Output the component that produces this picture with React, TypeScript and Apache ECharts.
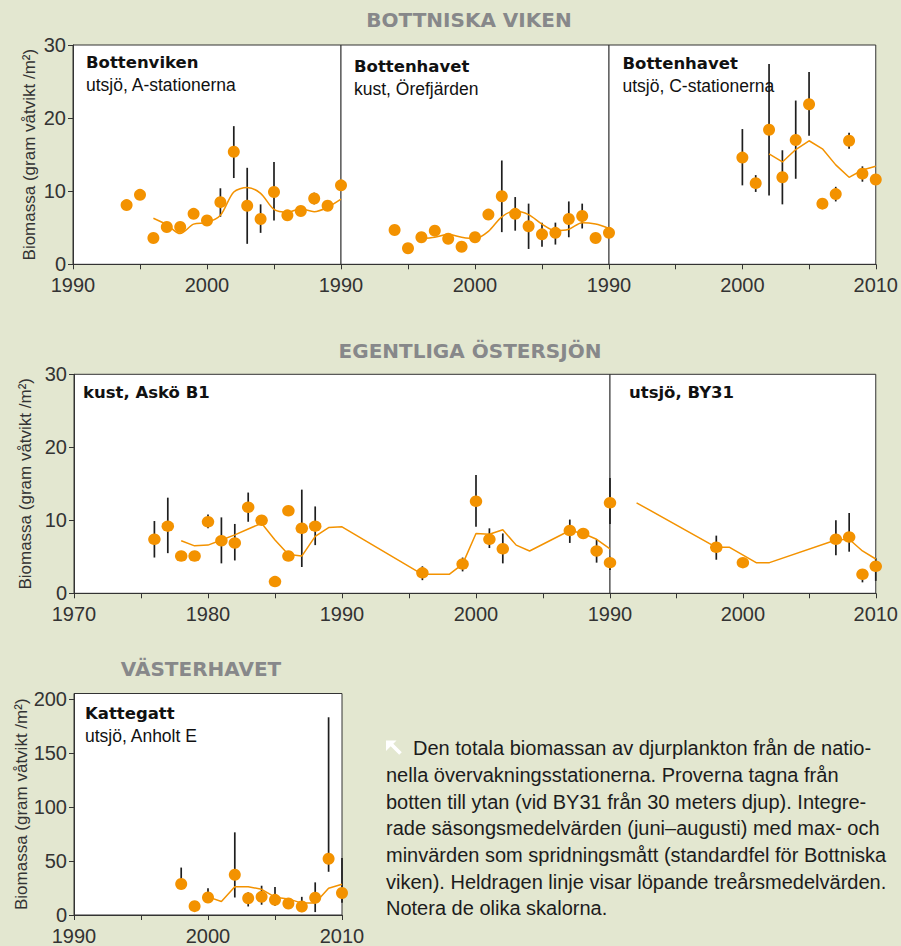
import React, { useEffect, useRef } from 'react';
import * as echarts from 'echarts';

// ---------- DATA ----------
// Bottenviken, utsjö, A-stationerna
const bottenvikenPoints: number[][] = [
  [1994, 8.1], [1995, 9.5], [1996, 3.6], [1997, 5.1], [1998, 5.1], [1999, 6.9], [2000, 6.0],
  [2001, 8.5], [2002, 15.4], [2003, 8.0], [2004, 6.2], [2005, 9.9], [2006, 6.7], [2007, 7.3],
  [2008, 9.0], [2009, 8.0], [2010, 10.8],
];
const bottenvikenErrors: number[][] = [
  [2001, 6.5, 10.4], [2002, 11.8, 18.9], [2003, 2.8, 13.2], [2004, 4.3, 8.2], [2005, 6.0, 14.0], [2008, 8.2, 9.8],
];
const bottenvikenAvg: number[][] = [
  [1996, 6.3], [1997, 5.4], [1998, 4.2], [1999, 5.5], [2000, 5.7], [2001, 6.7], [2002, 9.9], [2003, 10.5],
  [2004, 9.7], [2005, 7.5], [2006, 7.1], [2007, 7.6], [2008, 7.2], [2009, 7.8], [2010, 8.9],
];

// Bottenhavet, kust, Örefjärden
const orefjardenPoints: number[][] = [
  [1994, 4.7], [1995, 2.2], [1996, 3.7], [1997, 4.6], [1998, 3.5], [1999, 2.4], [2000, 3.7],
  [2001, 6.8], [2002, 9.3], [2003, 6.9], [2004, 5.2], [2005, 4.1], [2006, 4.3], [2007, 6.2],
  [2008, 6.6], [2009, 3.6], [2010, 4.3],
];
const orefjardenErrors: number[][] = [
  [2002, 4.4, 14.2], [2003, 4.6, 9.2], [2004, 2.1, 8.3], [2005, 2.4, 5.7], [2006, 2.7, 5.7],
  [2007, 3.7, 8.6], [2008, 4.9, 8.3],
];
const orefjardenAvg: number[][] = [
  [1996, 3.5], [1997, 3.7], [1998, 4.1], [1999, 3.7], [2000, 3.5], [2001, 4.5], [2002, 6.5], [2003, 7.3],
  [2004, 6.8], [2005, 5.5], [2006, 4.6], [2007, 4.8], [2008, 5.7], [2009, 5.5], [2010, 4.9],
];

// Bottenhavet, utsjö, C-stationerna
const cStationPoints: number[][] = [
  [2000, 14.6], [2001, 11.1], [2002, 18.4], [2003, 11.9], [2004, 17.0], [2005, 21.9],
  [2006, 8.3], [2007, 9.6], [2008, 16.9], [2009, 12.4], [2010, 11.6],
];
const cStationErrors: number[][] = [
  [2000, 10.8, 18.5], [2001, 9.9, 12.2], [2002, 9.4, 27.4], [2003, 8.2, 15.6], [2004, 11.7, 22.4],
  [2005, 17.6, 26.3], [2007, 8.6, 10.6], [2008, 15.8, 18.0], [2009, 11.3, 13.4],
];
const cStationAvg: number[][] = [
  [2002, 15.1], [2003, 14.0], [2004, 15.7], [2005, 16.9], [2006, 15.8], [2007, 13.6],
  [2008, 11.9], [2009, 12.9], [2010, 13.4],
];

// Egentliga Östersjön, kust, Askö B1
const askoPoints: number[][] = [
  [1976, 7.4], [1977, 9.2], [1978, 5.1], [1979, 5.1], [1980, 9.8], [1981, 7.2], [1982, 6.9],
  [1983, 11.8], [1984, 10.0], [1985, 1.6], [1986, 11.3], [1986, 5.1], [1987, 8.9], [1988, 9.2],
  [1996, 2.8], [1999, 4.0], [2000, 12.6], [2001, 7.4], [2002, 6.1], [2007, 8.6], [2008, 8.2],
  [2009, 5.8], [2010, 4.2],
];
const askoErrors: number[][] = [
  [1976, 4.9, 9.9], [1977, 5.5, 13.1], [1980, 8.9, 10.8], [1981, 4.1, 10.4], [1982, 4.5, 9.5],
  [1983, 9.8, 13.8], [1987, 3.6, 14.2], [1988, 6.6, 11.9], [1996, 1.8, 3.7], [1999, 3.0, 4.9],
  [2000, 9.1, 16.2], [2001, 6.2, 8.9], [2002, 4.1, 8.2], [2007, 6.9, 10.1], [2009, 4.2, 7.4],
  [2010, 3.2, 5.0],
];
const askoAvg: number[][] = [
  [1978, 7.2], [1979, 6.5], [1980, 6.6], [1981, 7.3], [1982, 8.0], [1983, 8.8], [1984, 9.6],
  [1985, 7.3], [1986, 5.3], [1987, 5.1], [1988, 7.8], [1989, 9.0], [1990, 9.1], [1996, 2.6],
  [1998, 2.6], [1999, 4.0], [2000, 8.2], [2001, 8.1], [2002, 8.7], [2003, 6.6], [2004, 5.8],
  [2007, 8.6], [2008, 8.2], [2009, 7.4], [2010, 6.1],
];

// Egentliga Östersjön, utsjö, BY31
const by31Points: number[][] = [
  [1990, 12.4], [1998, 6.3], [2000, 4.2], [2007, 7.4], [2008, 7.7], [2009, 2.6], [2010, 3.7],
];
const by31Errors: number[][] = [
  [1990, 9.5, 15.8], [1998, 4.6, 7.9], [2007, 5.2, 10.0], [2008, 5.7, 11.0], [2009, 1.5, 3.3], [2010, 1.7, 4.8],
];
const by31Avg: number[][] = [
  [1992, 12.4], [1998, 6.3], [1999, 6.3], [2001, 4.2], [2002, 4.2], [2007, 7.3], [2008, 7.4],
  [2009, 5.8], [2010, 4.7],
];

// Västerhavet, Kattegatt, utsjö, Anholt E
const kattegattPoints: number[][] = [
  [1998, 28.7], [1999, 8.2], [2000, 16.2], [2002, 37.2], [2003, 15.5], [2004, 16.8], [2005, 14.0],
  [2006, 10.7], [2007, 7.9], [2008, 15.9], [2009, 52.1], [2010, 20.4],
];
const kattegattErrors: number[][] = [
  [1998, 28.7, 43.9], [2000, 11.3, 24.7], [2002, 16.2, 76.5], [2003, 7.9, 21.0], [2004, 9.5, 27.1],
  [2005, 8.5, 25.9], [2006, 8.5, 13.5], [2007, 2.7, 16.8], [2008, 2.7, 30.2], [2009, 40.0, 183.0],
  [2010, 11.3, 52.7],
];
const kattegattAvg: number[][] = [
  [2000, 16.8], [2001, 12.5], [2002, 26.2], [2003, 26.2], [2004, 23.8], [2005, 16.5], [2006, 14.9],
  [2007, 11.0], [2008, 11.0], [2009, 24.7], [2010, 28.4],
];

const kattegattYTicks = [0, 50, 100, 150, 200];
const balticYTicks = [0, 10, 20, 30];

const captionLines = [
  'Den totala biomassan av djurplankton från de natio-',
  'nella övervakningsstationerna. Proverna tagna från',
  'botten till ytan (vid BY31 från 30 meters djup). Integre-',
  'rade säsongsmedelvärden (juni–augusti) med max- och',
  'minvärden som spridningsmått (standardfel för Bottniska',
  'viken). Heldragen linje visar löpande treårsmedelvärden.',
  'Notera de olika skalorna.',
];

// ---------- STYLE ----------
const ORANGE = '#f39200';
const AXIS = '#333333';
const BG = '#e3e7d0';
const FONT = '"Liberation Sans", Arial, Helvetica, sans-serif';
const BOLD_FONT = '"DejaVu Sans", "Liberation Sans", Arial, sans-serif';
const Y_NAME = 'Biomassa (gram våtvikt /m²)';

type Panel = {
  points: number[][];
  errors: number[][];
  avg: number[][];
  grid: { left: number; top: number; width: number; height: number };
  xMin: number;
  xMax: number;
  yMax: number;
  showY: boolean;
  showMaxX: boolean;
  smooth: number | boolean;
  kattegatt?: boolean;
};

const panels: Panel[] = [
  { points: bottenvikenPoints, errors: bottenvikenErrors, avg: bottenvikenAvg,
    grid: { left: 73, top: 45, width: 268, height: 219.3 }, xMin: 1990, xMax: 2010, yMax: 30,
    showY: true, showMaxX: false, smooth: 0.3 },
  { points: orefjardenPoints, errors: orefjardenErrors, avg: orefjardenAvg,
    grid: { left: 341, top: 45, width: 268, height: 219.3 }, xMin: 1990, xMax: 2010, yMax: 30,
    showY: false, showMaxX: false, smooth: 0.3 },
  { points: cStationPoints, errors: cStationErrors, avg: cStationAvg,
    grid: { left: 609, top: 45, width: 269, height: 219.3 }, xMin: 1990, xMax: 2010, yMax: 30,
    showY: false, showMaxX: true, smooth: false },
  { points: askoPoints, errors: askoErrors, avg: askoAvg,
    grid: { left: 74, top: 374.3, width: 536, height: 219 }, xMin: 1970, xMax: 2010, yMax: 30,
    showY: true, showMaxX: false, smooth: false },
  { points: by31Points, errors: by31Errors, avg: by31Avg,
    grid: { left: 610, top: 374.3, width: 268, height: 219 }, xMin: 1990, xMax: 2010, yMax: 30,
    showY: false, showMaxX: true, smooth: false },
  { points: kattegattPoints, errors: kattegattErrors, avg: kattegattAvg,
    grid: { left: 74, top: 693.5, width: 268, height: 224.2 }, xMin: 1990, xMax: 2010, yMax: 205,
    showY: true, showMaxX: true, smooth: false, kattegatt: true },
];

function buildOption() {
  const grid = panels.map((p) => ({
    ...p.grid,
    show: true,
    backgroundColor: '#ffffff',
    borderColor: AXIS,
    borderWidth: 1,
    containLabel: false,
  }));

  const xAxis = panels.map((p, i) => ({
    type: 'value',
    gridIndex: i,
    min: p.xMin,
    max: p.xMax,
    interval: 5,
    axisLine: { show: true, lineStyle: { color: AXIS, width: 1 } },
    axisTick: { show: true, length: 5, inside: false, lineStyle: { color: AXIS, width: 1 } },
    axisLabel: {
      show: true,
      showMaxLabel: p.showMaxX,
      showMinLabel: true,
      margin: 11,
      color: AXIS,
      fontSize: 20,
      fontFamily: FONT,
      formatter: (v: number) => (v % 10 === 0 ? String(v) : ''),
    },
    splitLine: { show: false },
  }));

  const yAxis = panels.map((p, i) => ({
    type: 'value',
    gridIndex: i,
    min: 0,
    max: p.yMax,
    interval: p.kattegatt ? 50 : 10,
    show: p.showY,
    name: p.showY ? Y_NAME : '',
    nameLocation: 'middle',
    nameGap: 35,
    nameTextStyle: { color: AXIS, fontSize: 17, fontFamily: FONT },
    axisLine: { show: true, lineStyle: { color: AXIS, width: 1 } },
    axisTick: {
      show: true, length: 5, inside: false, lineStyle: { color: AXIS, width: 1 },
      customValues: p.kattegatt ? kattegattYTicks : balticYTicks,
    },
    axisLabel: {
      show: true,
      margin: 7,
      color: AXIS,
      fontSize: 20,
      fontFamily: FONT,
      ...(p.kattegatt ? { customValues: kattegattYTicks } : {}),
      formatter: (v: number) => (p.kattegatt ? (v % 50 === 0 ? String(v) : '') : String(v)),
    },
    splitLine: { show: false },
  }));

  const series: any[] = [];
  panels.forEach((p, i) => {
    series.push({
      type: 'custom',
      xAxisIndex: i,
      yAxisIndex: i,
      data: p.errors,
      encode: { x: 0, y: [1, 2] },
      clip: false,
      z: 2,
      silent: true,
      renderItem: (_params: any, api: any) => {
        const a = api.coord([api.value(0), api.value(1)]);
        const b = api.coord([api.value(0), api.value(2)]);
        return {
          type: 'line',
          shape: { x1: a[0], y1: a[1], x2: b[0], y2: b[1] },
          style: { stroke: '#1e1e1e', lineWidth: 1.7 },
        };
      },
    });
    series.push({
      type: 'line',
      xAxisIndex: i,
      yAxisIndex: i,
      data: p.avg,
      showSymbol: false,
      symbol: 'none',
      smooth: p.smooth,
      clip: false,
      z: 3,
      silent: true,
      lineStyle: { color: ORANGE, width: 1.5 },
    });
    series.push({
      type: 'scatter',
      xAxisIndex: i,
      yAxisIndex: i,
      data: p.points,
      symbol: 'circle',
      symbolSize: i >= 3 && i <= 4 ? [12.5, 11.5] : 12,
      clip: false,
      z: 4,
      silent: true,
      itemStyle: { color: ORANGE, opacity: 1 },
    });
  });

  const titleText = (x: number, y: number, text: string, bold: boolean) => ({
    type: 'text',
    x,
    y,
    z: 100,
    style: {
      text,
      fill: '#111',
      fontSize: bold ? 16.5 : 17.5,
      fontWeight: bold ? 'bold' : 'normal',
      fontFamily: bold ? BOLD_FONT : FONT,
      textAlign: 'left',
      textVerticalAlign: 'middle',
    },
  });

  const sectionText = (x: number, y: number, text: string) => ({
    type: 'text',
    x,
    y,
    z: 100,
    style: {
      text,
      fill: '#87888a',
      fontSize: 20,
      fontWeight: 'bold',
      fontFamily: BOLD_FONT,
      textAlign: 'center',
      textVerticalAlign: 'middle',
    },
  });

  const captionY = [748.3, 775, 801.7, 828.3, 855, 881.7, 908.3];
  const caption = captionLines.map((t, k) => ({
    type: 'text',
    x: k === 0 ? 413 : 386,
    y: captionY[k],
    z: 100,
    style: {
      text: t,
      fill: '#1c1c1c',
      fontSize: 20,
      fontFamily: FONT,
      textAlign: 'left',
      textVerticalAlign: 'middle',
    },
  }));

  const graphic: any[] = [
    sectionText(469, 19.5, 'BOTTNISKA VIKEN'),
    sectionText(470, 351, 'EGENTLIGA ÖSTERSJÖN'),
    sectionText(201, 668.5, 'VÄSTERHAVET'),
    titleText(86, 62, 'Bottenviken', true),
    titleText(86, 85, 'utsjö, A-stationerna', false),
    titleText(354, 66, 'Bottenhavet', true),
    titleText(354, 88.5, 'kust, Örefjärden', false),
    titleText(622.5, 63, 'Bottenhavet', true),
    titleText(622.5, 86, 'utsjö, C-stationerna', false),
    titleText(83, 392.5, 'kust, Askö B1', true),
    titleText(629, 392.5, 'utsjö, BY31', true),
    titleText(85, 713, 'Kattegatt', true),
    titleText(85, 736, 'utsjö, Anholt E', false),
    {
      type: 'polygon',
      z: 100,
      shape: {
        points: [[386, 740.5], [396.5, 740.5], [393.3, 743.7], [401.8, 752.2], [399.2, 754.8], [390.7, 746.3], [386, 751]],
      },
      style: { fill: '#ffffff' },
    },
    ...caption,
  ];

  return {
    animation: false,
    backgroundColor: BG,
    grid,
    xAxis,
    yAxis,
    series,
    graphic,
  };
}

export default function App() {
  const ref = useRef<HTMLDivElement>(null);
  useEffect(() => {
    if (!ref.current) return;
    const chart = echarts.init(ref.current, null, { renderer: 'svg' });
    chart.setOption(buildOption() as any);
    return () => chart.dispose();
  }, []);
  return (
    <div
      ref={ref}
      style={{ position: 'absolute', left: 0, top: 0, width: 901, height: 946 }}
    />
  );
}
